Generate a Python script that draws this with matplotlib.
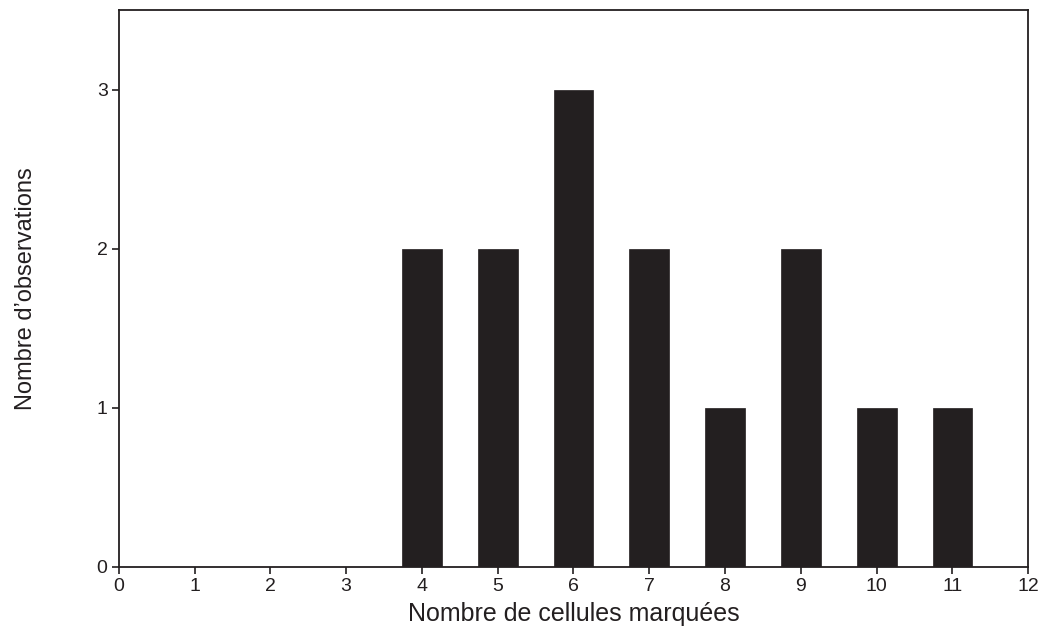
import matplotlib
matplotlib.use("Agg")
import matplotlib.pyplot as plt

plt.rcParams['font.family'] = ['Liberation Sans', 'DejaVu Sans']

# Data
cellules = [4, 5, 6, 7, 8, 9, 10, 11]
observations = [2, 2, 3, 2, 1, 2, 1, 1]
x_ticks = list(range(0, 13))
y_ticks = [0, 1, 2, 3]

fig = plt.figure(figsize=(10.46, 6.35), dpi=100)
ax = fig.add_axes([0.1135, 0.1076, 0.8695, 0.8765])

ax.bar(cellules, observations, width=0.525, color="#231f20", edgecolor="#231f20", linewidth=0.5)

ax.set_xlim(0, 12)
ax.set_ylim(0, 3.5)
ax.set_xticks(x_ticks)
ax.set_yticks(y_ticks)
ax.tick_params(direction="out", length=5, width=1.2, labelsize=14, colors="#231f20", pad=3)
for s in ax.spines.values():
    s.set_linewidth(1.3)
    s.set_color("#231f20")

ax.set_xlabel("Nombre de cellules marquées", fontsize=18, color="#231f20")
ax.set_ylabel("Nombre d\u2019observations", fontsize=17, color="#231f20")
ax.xaxis.set_label_coords(0.5, -0.064)
ax.yaxis.set_label_coords(-0.09, 0.5)

fig.savefig("out.png", dpi=100)
